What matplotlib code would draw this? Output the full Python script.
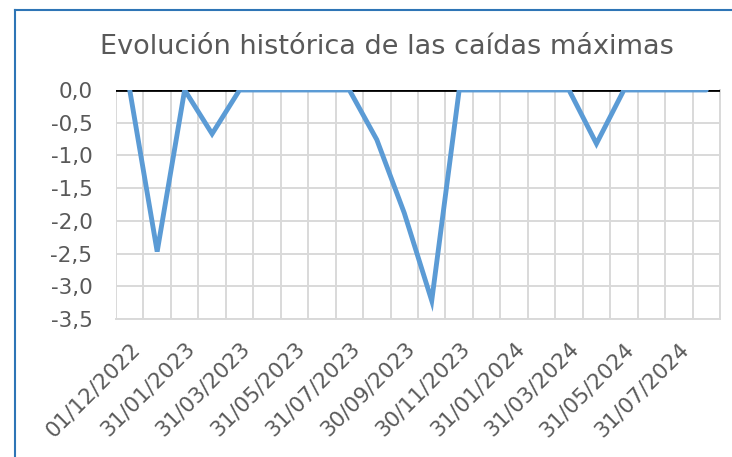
import matplotlib
matplotlib.use("Agg")
import matplotlib.pyplot as plt
from matplotlib.lines import Line2D
import numpy as np

dates = ["01/12/2022", "31/12/2022", "31/01/2023", "28/02/2023", "31/03/2023",
         "30/04/2023", "31/05/2023", "30/06/2023", "31/07/2023", "31/08/2023",
         "30/09/2023", "31/10/2023", "30/11/2023", "31/12/2023", "31/01/2024",
         "29/02/2024", "31/03/2024", "30/04/2024", "31/05/2024", "30/06/2024",
         "31/07/2024", "31/08/2024"]
values = [0.0, -2.47, 0.0, -0.67, 0.0,
          0.0, 0.0, 0.0, 0.0, -0.76,
          -1.88, -3.22, 0.0, 0.0, 0.0,
          0.0, 0.0, -0.82, 0.0, 0.0,
          0.0, 0.0]
yticks = [0.0, -0.5, -1.0, -1.5, -2.0, -2.5, -3.0, -3.5]
title = "Evolución histórica de las caídas máximas"

plt.rcParams['font.family'] = ['DejaVu Sans']
W, H = 732, 457
fig = plt.figure(figsize=(W/100, H/100), dpi=100)
ax = fig.add_axes([116/W, 1-319/H, (720-116)/W, (319-90)/H])

x = np.arange(len(dates))
ax.plot(x, values, color='#5B9BD5', lw=3.5, solid_capstyle='round',
        solid_joinstyle='miter', zorder=5)

ax.set_xlim(-0.5, len(dates)-0.5)
ax.set_ylim(-3.5, 0.0)

grid_c = '#D9D9D9'
ax.set_yticks(yticks)
ax.set_yticklabels([f"{v:.1f}".replace('.', ',') for v in yticks])
ax.set_xticks(x[::2])
ax.set_xticklabels(dates[::2], rotation=45, ha='right', va='top',
                   rotation_mode='anchor')
ax.set_xticks(np.arange(-0.5, len(dates), 1.0), minor=True)
ax.tick_params(axis='both', which='both', length=0)
ax.tick_params(axis='y', labelsize=15.5, colors='#595959', pad=17)
ax.tick_params(axis='x', labelsize=15.5, colors='#595959', pad=14)
ax.grid(True, which='minor', axis='x', color=grid_c, lw=1.4)
ax.grid(True, which='major', axis='y', color=grid_c, lw=1.4)
ax.grid(False, which='major', axis='x')
for s in ['left', 'top']:
    ax.spines[s].set_visible(False)
ax.spines['right'].set_color(grid_c)
ax.spines['right'].set_linewidth(1.4)
ax.spines['bottom'].set_color(grid_c)
ax.spines['bottom'].set_linewidth(1.4)
ax.axhline(0, color='black', lw=2, zorder=4)

fig.text(387/W, 1-47/H, title, ha='center', va='center', fontsize=19.5,
         color='#595959')

# chart border (top and left)
fig.add_artist(Line2D([15/W, 1], [1-9.5/H, 1-9.5/H], transform=fig.transFigure,
                      color='#2E75B6', lw=1.5))
fig.add_artist(Line2D([15/W, 15/W], [0, 1-9.5/H], transform=fig.transFigure,
                      color='#2E75B6', lw=1.5))

fig.savefig('out.png', dpi=100)
